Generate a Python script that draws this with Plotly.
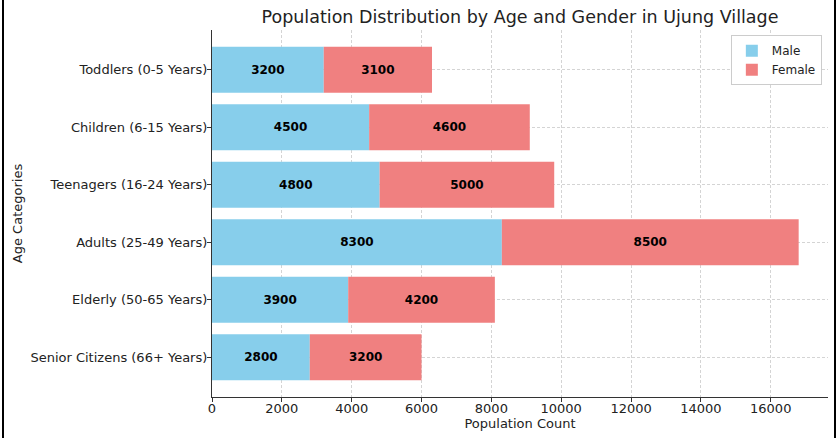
import plotly.graph_objects as go

categories = ["Toddlers (0-5 Years)", "Children (6-15 Years)", "Teenagers (16-24 Years)",
              "Adults (25-49 Years)", "Elderly (50-65 Years)", "Senior Citizens (66+ Years)"]
male = [3200, 4500, 4800, 8300, 3900, 2800]
female = [3100, 4600, 5000, 8500, 4200, 3200]
x_ticks = [0, 2000, 4000, 6000, 8000, 10000, 12000, 14000, 16000]

font = "DejaVu Sans"
fig = go.Figure()
fig.add_trace(go.Bar(y=categories, x=male, orientation="h", name="Male",
                     marker=dict(color="#87CEEB", line=dict(width=0)), width=0.8,
                     text=[f"<b>{v}</b>" for v in male], textposition="inside",
                     insidetextanchor="middle", textangle=0,
                     textfont=dict(family=font, size=12, color="black")))
bases = male
fig.add_trace(go.Bar(y=categories, x=female, base=bases, orientation="h", name="Female",
                     marker=dict(color="#F08080", line=dict(width=0)), width=0.8,
                     text=[f"<b>{v}</b>" for v in female], textposition="inside",
                     insidetextanchor="middle", textangle=0,
                     textfont=dict(family=font, size=12, color="black")))

totals = [m + f for m, f in zip(male, female)]
xmax = max(totals) * 1.05

fig.update_layout(
    width=838, height=438,
    margin=dict(l=212, r=10, t=30, b=41, autoexpand=False),
    paper_bgcolor="white", plot_bgcolor="white",
    barmode="overlay",
    font=dict(family=font, size=13, color="#222"),
    title=dict(text="Population Distribution by Age and Gender in Ujung Village",
               x=(212 + 616 / 2) / 838, xanchor="center", y=1 - 17 / 438, yanchor="middle",
               font=dict(size=17.5, color="#222"), automargin=False),
    xaxis=dict(range=[0, xmax], tickvals=x_ticks, ticktext=[str(v) for v in x_ticks],
               showline=True, linecolor="#333", linewidth=1.2, automargin=False,
               ticks="outside", ticklen=4, tickcolor="#333", showgrid=True, gridcolor="#d4d4d4",
               griddash="3px,2px", gridwidth=1, zeroline=False, ticklabelstandoff=-5,
               title=dict(text="Population Count", font=dict(size=13), standoff=0),
               tickfont=dict(size=13)),
    yaxis=dict(categoryorder="array", categoryarray=categories, range=[5.69, -0.69],
               showline=True, linecolor="#333", linewidth=1.2, ticks="outside", ticklen=4,
               tickcolor="#333", showgrid=True, gridcolor="#d4d4d4", griddash="3px,2px",
               automargin=False, ticklabelstandoff=-3,
               title=dict(text="Age Categories", font=dict(size=13), standoff=4),
               tickfont=dict(size=13)),
    legend=dict(x=0.99, y=0.986, xanchor="right", yanchor="top", bgcolor="white",
                bordercolor="#cccccc", borderwidth=1, font=dict(size=12),
                itemsizing="constant", tracegroupgap=0),
    showlegend=True,
)

# image border lines (left and right)
fig.add_shape(type="line", xref="paper", yref="paper", x0=-209 / 616, x1=-209 / 616,
              y0=-41 / 367, y1=1 + 30 / 367, line=dict(color="black", width=2))
fig.add_shape(type="line", xref="paper", yref="paper", x0=1 + 7 / 616, x1=1 + 7 / 616,
              y0=-41 / 367, y1=1 + 30 / 367, line=dict(color="black", width=2))

fig.write_html("out.html", config={"displayModeBar": False},
               post_script="document.body.style.margin='0';")
